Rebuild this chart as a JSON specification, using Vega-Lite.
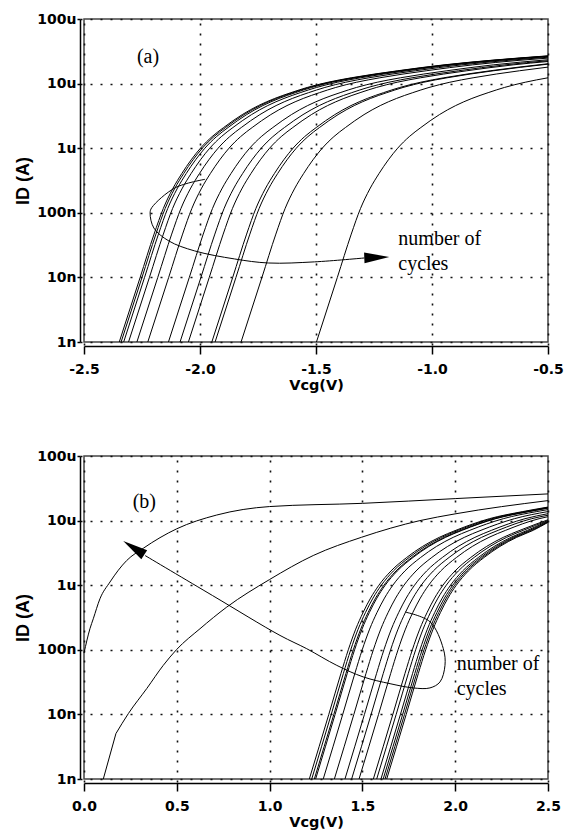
{
  "$schema": "https://vega.github.io/schema/vega-lite/v6.json",
  "padding": {"left": 14, "top": 11, "right": 10, "bottom": 5},
  "spacing": 55,
  "config": {
    "view": {"stroke": "#444", "strokeWidth": 1.5},
    "axis": {
      "labelFont": "DejaVu Sans", "labelFontWeight": "bold", "labelFontSize": 14, "labelColor": "black", "labelFlush": false,
      "titleFont": "DejaVu Sans", "titleFontWeight": "bold", "titleFontSize": 14.5, "titleColor": "black",
      "domainColor": "black", "domainWidth": 1.5, "tickColor": "black", "tickWidth": 1.5,
      "gridColor": "#111", "gridDash": [2, 8], "gridWidth": 1.6, "gridOpacity": 1,
      "offset": 4
    },
    "axisX": {"tickSize": 8, "labelPadding": 8, "titlePadding": 2, "labelAngle": 0},
    "axisY": {"tickSize": 3, "labelPadding": 1, "titlePadding": 4, "titleFont": "Liberation Sans", "titleFontSize": 18}
  },
  "datasets": {
    "topCurves": [
      {"c":"t1","v":-2.348,"id":1e-9},{"c":"t1","v":-2.258,"id":1e-8},{"c":"t1","v":-2.198,"id":4.68e-8},{"c":"t1","v":-2.158,"id":1.17e-7},{"c":"t1","v":-2.118,"id":2.34e-7},{"c":"t1","v":-2.078,"id":4.07e-7},{"c":"t1","v":-2.038,"id":6.61e-7},{"c":"t1","v":-1.998,"id":1e-6},{"c":"t1","v":-1.948,"id":1.51e-6},{"c":"t1","v":-1.898,"id":2.09e-6},{"c":"t1","v":-1.818,"id":3.31e-6},{"c":"t1","v":-1.748,"id":4.57e-6},{"c":"t1","v":-1.678,"id":5.89e-6},{"c":"t1","v":-1.608,"id":7.24e-6},{"c":"t1","v":-1.538,"id":8.71e-6},{"c":"t1","v":-1.448,"id":1.05e-5},{"c":"t1","v":-1.348,"id":1.23e-5},{"c":"t1","v":-1.148,"id":1.58e-5},{"c":"t1","v":-0.948,"id":1.95e-5},{"c":"t1","v":-0.748,"id":2.29e-5},{"c":"t1","v":-0.5,"id":2.69e-5},
      {"c":"t2","v":-2.340,"id":1e-9},{"c":"t2","v":-2.250,"id":1e-8},{"c":"t2","v":-2.190,"id":4.68e-8},{"c":"t2","v":-2.150,"id":1.17e-7},{"c":"t2","v":-2.110,"id":2.34e-7},{"c":"t2","v":-2.070,"id":4.07e-7},{"c":"t2","v":-2.030,"id":6.61e-7},{"c":"t2","v":-1.990,"id":1e-6},{"c":"t2","v":-1.940,"id":1.51e-6},{"c":"t2","v":-1.890,"id":2.09e-6},{"c":"t2","v":-1.810,"id":3.31e-6},{"c":"t2","v":-1.740,"id":4.57e-6},{"c":"t2","v":-1.670,"id":5.89e-6},{"c":"t2","v":-1.600,"id":7.24e-6},{"c":"t2","v":-1.530,"id":8.71e-6},{"c":"t2","v":-1.440,"id":1.05e-5},{"c":"t2","v":-1.340,"id":1.23e-5},{"c":"t2","v":-1.140,"id":1.58e-5},{"c":"t2","v":-0.940,"id":1.95e-5},{"c":"t2","v":-0.740,"id":2.29e-5},{"c":"t2","v":-0.5,"id":2.67e-5},
      {"c":"t3","v":-2.329,"id":1e-9},{"c":"t3","v":-2.239,"id":1e-8},{"c":"t3","v":-2.179,"id":4.68e-8},{"c":"t3","v":-2.139,"id":1.17e-7},{"c":"t3","v":-2.099,"id":2.34e-7},{"c":"t3","v":-2.059,"id":4.07e-7},{"c":"t3","v":-2.019,"id":6.61e-7},{"c":"t3","v":-1.979,"id":1e-6},{"c":"t3","v":-1.929,"id":1.51e-6},{"c":"t3","v":-1.879,"id":2.09e-6},{"c":"t3","v":-1.799,"id":3.31e-6},{"c":"t3","v":-1.729,"id":4.57e-6},{"c":"t3","v":-1.659,"id":5.89e-6},{"c":"t3","v":-1.589,"id":7.24e-6},{"c":"t3","v":-1.519,"id":8.71e-6},{"c":"t3","v":-1.429,"id":1.05e-5},{"c":"t3","v":-1.329,"id":1.23e-5},{"c":"t3","v":-1.129,"id":1.58e-5},{"c":"t3","v":-0.929,"id":1.95e-5},{"c":"t3","v":-0.729,"id":2.29e-5},{"c":"t3","v":-0.5,"id":2.65e-5},
      {"c":"t4","v":-2.308,"id":1e-9},{"c":"t4","v":-2.218,"id":1e-8},{"c":"t4","v":-2.158,"id":4.68e-8},{"c":"t4","v":-2.118,"id":1.17e-7},{"c":"t4","v":-2.078,"id":2.34e-7},{"c":"t4","v":-2.038,"id":4.07e-7},{"c":"t4","v":-1.998,"id":6.61e-7},{"c":"t4","v":-1.958,"id":1e-6},{"c":"t4","v":-1.908,"id":1.51e-6},{"c":"t4","v":-1.858,"id":2.09e-6},{"c":"t4","v":-1.778,"id":3.31e-6},{"c":"t4","v":-1.708,"id":4.57e-6},{"c":"t4","v":-1.638,"id":5.89e-6},{"c":"t4","v":-1.568,"id":7.24e-6},{"c":"t4","v":-1.498,"id":8.71e-6},{"c":"t4","v":-1.408,"id":1.05e-5},{"c":"t4","v":-1.308,"id":1.23e-5},{"c":"t4","v":-1.108,"id":1.58e-5},{"c":"t4","v":-0.908,"id":1.95e-5},{"c":"t4","v":-0.708,"id":2.29e-5},{"c":"t4","v":-0.5,"id":2.62e-5},
      {"c":"t5","v":-2.272,"id":1e-9},{"c":"t5","v":-2.182,"id":1e-8},{"c":"t5","v":-2.122,"id":4.68e-8},{"c":"t5","v":-2.082,"id":1.17e-7},{"c":"t5","v":-2.042,"id":2.34e-7},{"c":"t5","v":-2.002,"id":4.07e-7},{"c":"t5","v":-1.962,"id":6.61e-7},{"c":"t5","v":-1.922,"id":1e-6},{"c":"t5","v":-1.872,"id":1.51e-6},{"c":"t5","v":-1.822,"id":2.09e-6},{"c":"t5","v":-1.742,"id":3.31e-6},{"c":"t5","v":-1.672,"id":4.57e-6},{"c":"t5","v":-1.602,"id":5.89e-6},{"c":"t5","v":-1.532,"id":7.24e-6},{"c":"t5","v":-1.462,"id":8.71e-6},{"c":"t5","v":-1.372,"id":1.05e-5},{"c":"t5","v":-1.272,"id":1.23e-5},{"c":"t5","v":-1.072,"id":1.58e-5},{"c":"t5","v":-0.872,"id":1.95e-5},{"c":"t5","v":-0.672,"id":2.29e-5},{"c":"t5","v":-0.5,"id":2.56e-5},
      {"c":"t6","v":-2.225,"id":1e-9},{"c":"t6","v":-2.135,"id":1e-8},{"c":"t6","v":-2.075,"id":4.68e-8},{"c":"t6","v":-2.035,"id":1.17e-7},{"c":"t6","v":-1.995,"id":2.34e-7},{"c":"t6","v":-1.955,"id":4.07e-7},{"c":"t6","v":-1.915,"id":6.61e-7},{"c":"t6","v":-1.875,"id":1e-6},{"c":"t6","v":-1.825,"id":1.51e-6},{"c":"t6","v":-1.775,"id":2.09e-6},{"c":"t6","v":-1.695,"id":3.31e-6},{"c":"t6","v":-1.625,"id":4.57e-6},{"c":"t6","v":-1.555,"id":5.89e-6},{"c":"t6","v":-1.485,"id":7.24e-6},{"c":"t6","v":-1.415,"id":8.71e-6},{"c":"t6","v":-1.325,"id":1.05e-5},{"c":"t6","v":-1.225,"id":1.23e-5},{"c":"t6","v":-1.025,"id":1.58e-5},{"c":"t6","v":-0.825,"id":1.95e-5},{"c":"t6","v":-0.625,"id":2.29e-5},{"c":"t6","v":-0.5,"id":2.48e-5},
      {"c":"t7","v":-2.136,"id":1e-9},{"c":"t7","v":-2.046,"id":1e-8},{"c":"t7","v":-1.986,"id":4.68e-8},{"c":"t7","v":-1.946,"id":1.17e-7},{"c":"t7","v":-1.906,"id":2.34e-7},{"c":"t7","v":-1.866,"id":4.07e-7},{"c":"t7","v":-1.826,"id":6.61e-7},{"c":"t7","v":-1.786,"id":1e-6},{"c":"t7","v":-1.736,"id":1.51e-6},{"c":"t7","v":-1.686,"id":2.09e-6},{"c":"t7","v":-1.606,"id":3.31e-6},{"c":"t7","v":-1.536,"id":4.57e-6},{"c":"t7","v":-1.466,"id":5.89e-6},{"c":"t7","v":-1.396,"id":7.24e-6},{"c":"t7","v":-1.326,"id":8.71e-6},{"c":"t7","v":-1.236,"id":1.05e-5},{"c":"t7","v":-1.136,"id":1.23e-5},{"c":"t7","v":-0.936,"id":1.58e-5},{"c":"t7","v":-0.736,"id":1.95e-5},{"c":"t7","v":-0.5,"id":2.34e-5},
      {"c":"t8","v":-2.086,"id":1e-9},{"c":"t8","v":-1.996,"id":1e-8},{"c":"t8","v":-1.936,"id":4.68e-8},{"c":"t8","v":-1.896,"id":1.17e-7},{"c":"t8","v":-1.856,"id":2.34e-7},{"c":"t8","v":-1.816,"id":4.07e-7},{"c":"t8","v":-1.776,"id":6.61e-7},{"c":"t8","v":-1.736,"id":1e-6},{"c":"t8","v":-1.686,"id":1.51e-6},{"c":"t8","v":-1.636,"id":2.09e-6},{"c":"t8","v":-1.556,"id":3.31e-6},{"c":"t8","v":-1.486,"id":4.57e-6},{"c":"t8","v":-1.416,"id":5.89e-6},{"c":"t8","v":-1.346,"id":7.24e-6},{"c":"t8","v":-1.276,"id":8.71e-6},{"c":"t8","v":-1.186,"id":1.05e-5},{"c":"t8","v":-1.086,"id":1.23e-5},{"c":"t8","v":-0.886,"id":1.58e-5},{"c":"t8","v":-0.686,"id":1.95e-5},{"c":"t8","v":-0.5,"id":2.26e-5},
      {"c":"t9","v":-2.050,"id":1e-9},{"c":"t9","v":-1.960,"id":1e-8},{"c":"t9","v":-1.900,"id":4.68e-8},{"c":"t9","v":-1.860,"id":1.17e-7},{"c":"t9","v":-1.820,"id":2.34e-7},{"c":"t9","v":-1.780,"id":4.07e-7},{"c":"t9","v":-1.740,"id":6.61e-7},{"c":"t9","v":-1.700,"id":1e-6},{"c":"t9","v":-1.650,"id":1.51e-6},{"c":"t9","v":-1.600,"id":2.09e-6},{"c":"t9","v":-1.520,"id":3.31e-6},{"c":"t9","v":-1.450,"id":4.57e-6},{"c":"t9","v":-1.380,"id":5.89e-6},{"c":"t9","v":-1.310,"id":7.24e-6},{"c":"t9","v":-1.240,"id":8.71e-6},{"c":"t9","v":-1.150,"id":1.05e-5},{"c":"t9","v":-1.050,"id":1.23e-5},{"c":"t9","v":-0.850,"id":1.58e-5},{"c":"t9","v":-0.650,"id":1.95e-5},{"c":"t9","v":-0.5,"id":2.20e-5},
      {"c":"t10","v":-1.949,"id":1e-9},{"c":"t10","v":-1.859,"id":1e-8},{"c":"t10","v":-1.799,"id":4.68e-8},{"c":"t10","v":-1.759,"id":1.17e-7},{"c":"t10","v":-1.719,"id":2.34e-7},{"c":"t10","v":-1.679,"id":4.07e-7},{"c":"t10","v":-1.639,"id":6.61e-7},{"c":"t10","v":-1.599,"id":1e-6},{"c":"t10","v":-1.549,"id":1.51e-6},{"c":"t10","v":-1.499,"id":2.09e-6},{"c":"t10","v":-1.419,"id":3.31e-6},{"c":"t10","v":-1.349,"id":4.57e-6},{"c":"t10","v":-1.279,"id":5.89e-6},{"c":"t10","v":-1.209,"id":7.24e-6},{"c":"t10","v":-1.139,"id":8.71e-6},{"c":"t10","v":-1.049,"id":1.05e-5},{"c":"t10","v":-0.949,"id":1.23e-5},{"c":"t10","v":-0.749,"id":1.58e-5},{"c":"t10","v":-0.5,"id":2.03e-5},
      {"c":"t11","v":-1.935,"id":1e-9},{"c":"t11","v":-1.845,"id":1e-8},{"c":"t11","v":-1.785,"id":4.68e-8},{"c":"t11","v":-1.745,"id":1.17e-7},{"c":"t11","v":-1.705,"id":2.34e-7},{"c":"t11","v":-1.665,"id":4.07e-7},{"c":"t11","v":-1.625,"id":6.61e-7},{"c":"t11","v":-1.585,"id":1e-6},{"c":"t11","v":-1.535,"id":1.51e-6},{"c":"t11","v":-1.485,"id":2.09e-6},{"c":"t11","v":-1.405,"id":3.31e-6},{"c":"t11","v":-1.335,"id":4.57e-6},{"c":"t11","v":-1.265,"id":5.89e-6},{"c":"t11","v":-1.195,"id":7.24e-6},{"c":"t11","v":-1.125,"id":8.71e-6},{"c":"t11","v":-1.035,"id":1.05e-5},{"c":"t11","v":-0.935,"id":1.23e-5},{"c":"t11","v":-0.735,"id":1.58e-5},{"c":"t11","v":-0.5,"id":2.0e-5},
      {"c":"t12","v":-1.823,"id":1e-9},{"c":"t12","v":-1.733,"id":1e-8},{"c":"t12","v":-1.673,"id":4.68e-8},{"c":"t12","v":-1.633,"id":1.17e-7},{"c":"t12","v":-1.593,"id":2.34e-7},{"c":"t12","v":-1.553,"id":4.07e-7},{"c":"t12","v":-1.513,"id":6.61e-7},{"c":"t12","v":-1.473,"id":1e-6},{"c":"t12","v":-1.423,"id":1.51e-6},{"c":"t12","v":-1.373,"id":2.09e-6},{"c":"t12","v":-1.293,"id":3.31e-6},{"c":"t12","v":-1.223,"id":4.57e-6},{"c":"t12","v":-1.153,"id":5.89e-6},{"c":"t12","v":-1.083,"id":7.24e-6},{"c":"t12","v":-1.013,"id":8.71e-6},{"c":"t12","v":-0.923,"id":1.05e-5},{"c":"t12","v":-0.823,"id":1.23e-5},{"c":"t12","v":-0.623,"id":1.58e-5},{"c":"t12","v":-0.5,"id":1.80e-5},
      {"c":"t13","v":-1.498,"id":1e-9},{"c":"t13","v":-1.408,"id":1e-8},{"c":"t13","v":-1.348,"id":4.68e-8},{"c":"t13","v":-1.308,"id":1.17e-7},{"c":"t13","v":-1.268,"id":2.34e-7},{"c":"t13","v":-1.228,"id":4.07e-7},{"c":"t13","v":-1.188,"id":6.61e-7},{"c":"t13","v":-1.148,"id":1e-6},{"c":"t13","v":-1.098,"id":1.51e-6},{"c":"t13","v":-1.048,"id":2.09e-6},{"c":"t13","v":-0.968,"id":3.31e-6},{"c":"t13","v":-0.898,"id":4.57e-6},{"c":"t13","v":-0.828,"id":5.89e-6},{"c":"t13","v":-0.758,"id":7.24e-6},{"c":"t13","v":-0.688,"id":8.71e-6},{"c":"t13","v":-0.598,"id":1.05e-5},{"c":"t13","v":-0.5,"id":1.23e-5}
    ],
    "topArrow": [
      {"i":1,"v":-1.978,"id":3.30e-7},{"i":2,"v":-2.107,"id":2.44e-7},{"i":3,"v":-2.208,"id":1.20e-7},{"i":4,"v":-2.215,"id":9.93e-8},{"i":5,"v":-2.199,"id":5.82e-8},{"i":6,"v":-2.134,"id":3.66e-8},{"i":7,"v":-2.023,"id":2.57e-8},{"i":8,"v":-1.851,"id":1.93e-8},{"i":9,"v":-1.704,"id":1.67e-8},{"i":10,"v":-1.506,"id":1.74e-8},{"i":11,"v":-1.291,"id":2.0e-8}
    ],
    "topHead": [{"v":-1.238,"id":2.04e-8}],
    "topText": [
      {"t":"(a)","v":-2.272,"id":2.56e-5},
      {"t":"number of","v":-1.145,"id":3.94e-8},
      {"t":"cycles","v":-1.145,"id":1.62e-8}
    ],
    "botCurves": [
      {"c":"b1","v":1.214,"id":1e-9},{"c":"b1","v":1.319,"id":1e-8},{"c":"b1","v":1.384,"id":4.27e-8},{"c":"b1","v":1.424,"id":1e-7},{"c":"b1","v":1.464,"id":2.09e-7},{"c":"b1","v":1.504,"id":3.80e-7},{"c":"b1","v":1.544,"id":6.31e-7},{"c":"b1","v":1.589,"id":1e-6},{"c":"b1","v":1.654,"id":1.66e-6},{"c":"b1","v":1.739,"id":2.69e-6},{"c":"b1","v":1.824,"id":3.98e-6},{"c":"b1","v":1.914,"id":5.50e-6},{"c":"b1","v":2.004,"id":7.08e-6},{"c":"b1","v":2.184,"id":1.07e-5},{"c":"b1","v":2.364,"id":1.38e-5},{"c":"b1","v":2.5,"id":1.62e-5},
      {"c":"b2","v":1.227,"id":1e-9},{"c":"b2","v":1.332,"id":1e-8},{"c":"b2","v":1.397,"id":4.27e-8},{"c":"b2","v":1.437,"id":1e-7},{"c":"b2","v":1.477,"id":2.09e-7},{"c":"b2","v":1.517,"id":3.80e-7},{"c":"b2","v":1.557,"id":6.31e-7},{"c":"b2","v":1.602,"id":1e-6},{"c":"b2","v":1.667,"id":1.66e-6},{"c":"b2","v":1.752,"id":2.69e-6},{"c":"b2","v":1.837,"id":3.98e-6},{"c":"b2","v":1.927,"id":5.50e-6},{"c":"b2","v":2.017,"id":7.08e-6},{"c":"b2","v":2.197,"id":1.07e-5},{"c":"b2","v":2.377,"id":1.38e-5},{"c":"b2","v":2.5,"id":1.60e-5},
      {"c":"b3","v":1.241,"id":1e-9},{"c":"b3","v":1.346,"id":1e-8},{"c":"b3","v":1.411,"id":4.27e-8},{"c":"b3","v":1.451,"id":1e-7},{"c":"b3","v":1.491,"id":2.09e-7},{"c":"b3","v":1.531,"id":3.80e-7},{"c":"b3","v":1.571,"id":6.31e-7},{"c":"b3","v":1.616,"id":1e-6},{"c":"b3","v":1.681,"id":1.66e-6},{"c":"b3","v":1.766,"id":2.69e-6},{"c":"b3","v":1.851,"id":3.98e-6},{"c":"b3","v":1.941,"id":5.50e-6},{"c":"b3","v":2.031,"id":7.08e-6},{"c":"b3","v":2.211,"id":1.07e-5},{"c":"b3","v":2.391,"id":1.38e-5},{"c":"b3","v":2.5,"id":1.57e-5},
      {"c":"b4","v":1.248,"id":1e-9},{"c":"b4","v":1.353,"id":1e-8},{"c":"b4","v":1.418,"id":4.27e-8},{"c":"b4","v":1.458,"id":1e-7},{"c":"b4","v":1.498,"id":2.09e-7},{"c":"b4","v":1.538,"id":3.80e-7},{"c":"b4","v":1.578,"id":6.31e-7},{"c":"b4","v":1.623,"id":1e-6},{"c":"b4","v":1.688,"id":1.66e-6},{"c":"b4","v":1.773,"id":2.69e-6},{"c":"b4","v":1.858,"id":3.98e-6},{"c":"b4","v":1.948,"id":5.50e-6},{"c":"b4","v":2.038,"id":7.08e-6},{"c":"b4","v":2.218,"id":1.07e-5},{"c":"b4","v":2.398,"id":1.38e-5},{"c":"b4","v":2.5,"id":1.56e-5},
      {"c":"b5","v":1.289,"id":1e-9},{"c":"b5","v":1.394,"id":1e-8},{"c":"b5","v":1.459,"id":4.27e-8},{"c":"b5","v":1.499,"id":1e-7},{"c":"b5","v":1.539,"id":2.09e-7},{"c":"b5","v":1.579,"id":3.80e-7},{"c":"b5","v":1.619,"id":6.31e-7},{"c":"b5","v":1.664,"id":1e-6},{"c":"b5","v":1.729,"id":1.66e-6},{"c":"b5","v":1.814,"id":2.69e-6},{"c":"b5","v":1.899,"id":3.98e-6},{"c":"b5","v":1.989,"id":5.50e-6},{"c":"b5","v":2.079,"id":7.08e-6},{"c":"b5","v":2.259,"id":1.07e-5},{"c":"b5","v":2.439,"id":1.38e-5},{"c":"b5","v":2.5,"id":1.48e-5},
      {"c":"b6","v":1.349,"id":1e-9},{"c":"b6","v":1.454,"id":1e-8},{"c":"b6","v":1.519,"id":4.27e-8},{"c":"b6","v":1.559,"id":1e-7},{"c":"b6","v":1.599,"id":2.09e-7},{"c":"b6","v":1.639,"id":3.80e-7},{"c":"b6","v":1.679,"id":6.31e-7},{"c":"b6","v":1.724,"id":1e-6},{"c":"b6","v":1.789,"id":1.66e-6},{"c":"b6","v":1.874,"id":2.69e-6},{"c":"b6","v":1.959,"id":3.98e-6},{"c":"b6","v":2.049,"id":5.50e-6},{"c":"b6","v":2.139,"id":7.08e-6},{"c":"b6","v":2.319,"id":1.07e-5},{"c":"b6","v":2.5,"id":1.38e-5},
      {"c":"b7","v":1.406,"id":1e-9},{"c":"b7","v":1.511,"id":1e-8},{"c":"b7","v":1.576,"id":4.27e-8},{"c":"b7","v":1.616,"id":1e-7},{"c":"b7","v":1.656,"id":2.09e-7},{"c":"b7","v":1.696,"id":3.80e-7},{"c":"b7","v":1.736,"id":6.31e-7},{"c":"b7","v":1.781,"id":1e-6},{"c":"b7","v":1.846,"id":1.66e-6},{"c":"b7","v":1.931,"id":2.69e-6},{"c":"b7","v":2.016,"id":3.98e-6},{"c":"b7","v":2.106,"id":5.50e-6},{"c":"b7","v":2.196,"id":7.08e-6},{"c":"b7","v":2.376,"id":1.07e-5},{"c":"b7","v":2.5,"id":1.28e-5},
      {"c":"b8","v":1.442,"id":1e-9},{"c":"b8","v":1.547,"id":1e-8},{"c":"b8","v":1.612,"id":4.27e-8},{"c":"b8","v":1.652,"id":1e-7},{"c":"b8","v":1.692,"id":2.09e-7},{"c":"b8","v":1.732,"id":3.80e-7},{"c":"b8","v":1.772,"id":6.31e-7},{"c":"b8","v":1.817,"id":1e-6},{"c":"b8","v":1.882,"id":1.66e-6},{"c":"b8","v":1.967,"id":2.69e-6},{"c":"b8","v":2.052,"id":3.98e-6},{"c":"b8","v":2.142,"id":5.50e-6},{"c":"b8","v":2.232,"id":7.08e-6},{"c":"b8","v":2.412,"id":1.07e-5},{"c":"b8","v":2.5,"id":1.21e-5},
      {"c":"b9","v":1.482,"id":1e-9},{"c":"b9","v":1.587,"id":1e-8},{"c":"b9","v":1.652,"id":4.27e-8},{"c":"b9","v":1.692,"id":1e-7},{"c":"b9","v":1.732,"id":2.09e-7},{"c":"b9","v":1.772,"id":3.80e-7},{"c":"b9","v":1.812,"id":6.31e-7},{"c":"b9","v":1.857,"id":1e-6},{"c":"b9","v":1.922,"id":1.66e-6},{"c":"b9","v":2.007,"id":2.69e-6},{"c":"b9","v":2.092,"id":3.98e-6},{"c":"b9","v":2.182,"id":5.50e-6},{"c":"b9","v":2.272,"id":7.08e-6},{"c":"b9","v":2.452,"id":1.07e-5},{"c":"b9","v":2.5,"id":1.15e-5},
      {"c":"b10","v":1.559,"id":1e-9},{"c":"b10","v":1.664,"id":1e-8},{"c":"b10","v":1.729,"id":4.27e-8},{"c":"b10","v":1.769,"id":1e-7},{"c":"b10","v":1.809,"id":2.09e-7},{"c":"b10","v":1.849,"id":3.80e-7},{"c":"b10","v":1.889,"id":6.31e-7},{"c":"b10","v":1.934,"id":1e-6},{"c":"b10","v":1.999,"id":1.66e-6},{"c":"b10","v":2.084,"id":2.69e-6},{"c":"b10","v":2.169,"id":3.98e-6},{"c":"b10","v":2.259,"id":5.50e-6},{"c":"b10","v":2.349,"id":7.08e-6},{"c":"b10","v":2.5,"id":1.03e-5},
      {"c":"b11","v":1.577,"id":1e-9},{"c":"b11","v":1.682,"id":1e-8},{"c":"b11","v":1.747,"id":4.27e-8},{"c":"b11","v":1.787,"id":1e-7},{"c":"b11","v":1.827,"id":2.09e-7},{"c":"b11","v":1.867,"id":3.80e-7},{"c":"b11","v":1.907,"id":6.31e-7},{"c":"b11","v":1.952,"id":1e-6},{"c":"b11","v":2.017,"id":1.66e-6},{"c":"b11","v":2.102,"id":2.69e-6},{"c":"b11","v":2.187,"id":3.98e-6},{"c":"b11","v":2.277,"id":5.50e-6},{"c":"b11","v":2.367,"id":7.08e-6},{"c":"b11","v":2.5,"id":1.0e-5},
      {"c":"b12","v":1.600,"id":1e-9},{"c":"b12","v":1.705,"id":1e-8},{"c":"b12","v":1.770,"id":4.27e-8},{"c":"b12","v":1.810,"id":1e-7},{"c":"b12","v":1.850,"id":2.09e-7},{"c":"b12","v":1.890,"id":3.80e-7},{"c":"b12","v":1.930,"id":6.31e-7},{"c":"b12","v":1.975,"id":1e-6},{"c":"b12","v":2.040,"id":1.66e-6},{"c":"b12","v":2.125,"id":2.69e-6},{"c":"b12","v":2.210,"id":3.98e-6},{"c":"b12","v":2.300,"id":5.50e-6},{"c":"b12","v":2.390,"id":7.08e-6},{"c":"b12","v":2.5,"id":9.8e-6},
      {"c":"b13","v":1.612,"id":1e-9},{"c":"b13","v":1.717,"id":1e-8},{"c":"b13","v":1.782,"id":4.27e-8},{"c":"b13","v":1.822,"id":1e-7},{"c":"b13","v":1.862,"id":2.09e-7},{"c":"b13","v":1.902,"id":3.80e-7},{"c":"b13","v":1.942,"id":6.31e-7},{"c":"b13","v":1.987,"id":1e-6},{"c":"b13","v":2.052,"id":1.66e-6},{"c":"b13","v":2.137,"id":2.69e-6},{"c":"b13","v":2.222,"id":3.98e-6},{"c":"b13","v":2.312,"id":5.50e-6},{"c":"b13","v":2.402,"id":7.08e-6},{"c":"b13","v":2.5,"id":9.6e-6},
      {"c":"b14","v":1.622,"id":1e-9},{"c":"b14","v":1.727,"id":1e-8},{"c":"b14","v":1.792,"id":4.27e-8},{"c":"b14","v":1.832,"id":1e-7},{"c":"b14","v":1.872,"id":2.09e-7},{"c":"b14","v":1.912,"id":3.80e-7},{"c":"b14","v":1.952,"id":6.31e-7},{"c":"b14","v":1.997,"id":1e-6},{"c":"b14","v":2.062,"id":1.66e-6},{"c":"b14","v":2.147,"id":2.69e-6},{"c":"b14","v":2.232,"id":3.98e-6},{"c":"b14","v":2.322,"id":5.50e-6},{"c":"b14","v":2.412,"id":7.08e-6},{"c":"b14","v":2.5,"id":9.5e-6},
      {"c":"b15","v":1.631,"id":1e-9},{"c":"b15","v":1.736,"id":1e-8},{"c":"b15","v":1.801,"id":4.27e-8},{"c":"b15","v":1.841,"id":1e-7},{"c":"b15","v":1.881,"id":2.09e-7},{"c":"b15","v":1.921,"id":3.80e-7},{"c":"b15","v":1.961,"id":6.31e-7},{"c":"b15","v":2.006,"id":1e-6},{"c":"b15","v":2.071,"id":1.66e-6},{"c":"b15","v":2.156,"id":2.69e-6},{"c":"b15","v":2.241,"id":3.98e-6},{"c":"b15","v":2.331,"id":5.50e-6},{"c":"b15","v":2.421,"id":7.08e-6},{"c":"b15","v":2.5,"id":9.4e-6},
      {"c":"A","v":0.0,"id":8.9e-8},{"c":"A","v":0.032,"id":2.12e-7},{"c":"A","v":0.05,"id":3.02e-7},{"c":"A","v":0.086,"id":6.17e-7},{"c":"A","v":0.14,"id":1.12e-6},{"c":"A","v":0.23,"id":2.41e-6},{"c":"A","v":0.32,"id":3.74e-6},{"c":"A","v":0.499,"id":7.45e-6},{"c":"A","v":0.715,"id":1.22e-5},{"c":"A","v":1.0,"id":1.65e-5},{"c":"A","v":1.5,"id":1.85e-5},{"c":"A","v":2.0,"id":2.19e-5},{"c":"A","v":2.5,"id":2.59e-5},
      {"c":"B1","v":0.104,"id":1e-9},{"c":"B1","v":0.172,"id":5.05e-9},
      {"c":"B2","v":0.172,"id":5.05e-9},{"c":"B2","v":0.239,"id":1.03e-8},{"c":"B2","v":0.338,"id":2.51e-8},{"c":"B2","v":0.427,"id":5.74e-8},{"c":"B2","v":0.499,"id":1.01e-7},{"c":"B2","v":0.625,"id":2.12e-7},{"c":"B2","v":0.769,"id":4.58e-7},{"c":"B2","v":0.999,"id":1.22e-6},{"c":"B2","v":1.235,"id":2.88e-6},{"c":"B2","v":1.496,"id":5.53e-6},{"c":"B2","v":1.81,"id":1e-5},{"c":"B2","v":1.999,"id":1.27e-5},{"c":"B2","v":2.5,"id":2.04e-5}
    ],
    "botArrow": [
      {"i":1,"v":1.730,"id":3.84e-7},{"i":2,"v":1.864,"id":2.72e-7},{"i":3,"v":1.936,"id":1.04e-7},{"i":4,"v":1.945,"id":5.74e-8},{"i":5,"v":1.918,"id":3.18e-8},{"i":6,"v":1.864,"id":2.57e-8},{"i":7,"v":1.774,"id":2.57e-8},{"i":8,"v":1.649,"id":2.99e-8},{"i":9,"v":1.505,"id":3.80e-8},{"i":10,"v":1.362,"id":5.74e-8},{"i":11,"v":1.200,"id":1.04e-7},{"i":12,"v":1.056,"id":1.67e-7},{"i":13,"v":0.692,"id":6.93e-7},{"i":14,"v":0.329,"id":2.88e-6}
    ],
    "botHead": [{"v":0.268,"id":3.78e-6}],
    "botText": [
      {"t":"(b)","v":0.262,"id":1.97e-5},
      {"t":"number of","v":2.008,"id":5.94e-8},
      {"t":"cycles","v":2.008,"id":2.51e-8}
    ]
  },
  "vconcat": [
    {
      "width": 464, "height": 323,
      "encoding": {
        "x": {"field": "v", "type": "quantitative", "scale": {"domain": [-2.5, -0.5], "nice": false, "zero": false},
              "axis": {"title": "Vcg(V)", "values": [-2.5, -2, -1.5, -1, -0.5], "labelExpr": "(datum.value < 0 ? '-' : '') + format(abs(datum.value), '.1f')"}},
        "y": {"field": "id", "type": "quantitative", "scale": {"type": "log", "domain": [1e-9, 1e-4], "nice": false},
              "axis": {"title": "ID (A)", "values": [1e-9, 1e-8, 1e-7, 1e-6, 1e-5, 1e-4], "labelExpr": "datum.value < 3e-9 ? '1n' : datum.value < 3e-8 ? '10n' : datum.value < 3e-7 ? '100n' : datum.value < 3e-6 ? '1u' : datum.value < 3e-5 ? '10u' : '100u'"}}
      },
      "layer": [
        {"data": {"name": "topCurves"}, "mark": {"type": "line", "interpolate": "monotone", "color": "black", "strokeWidth": 1}, "encoding": {"detail": {"field": "c"}}},
        {"data": {"name": "topArrow"}, "mark": {"type": "line", "interpolate": "catmull-rom", "color": "black", "strokeWidth": 1}, "encoding": {"order": {"field": "i", "type": "quantitative"}}},
        {"data": {"name": "topHead"}, "mark": {"type": "point", "shape": "M 1 0 L -1 -0.43 L -1 0.43 Z", "size": 625, "angle": -2.3, "filled": true, "color": "black", "opacity": 1}},
        {"data": {"name": "topText"}, "mark": {"type": "text", "font": "Liberation Serif", "fontSize": 20, "align": "left", "baseline": "middle", "color": "black"}, "encoding": {"text": {"field": "t"}}}
      ]
    },
    {
      "width": 464, "height": 323,
      "encoding": {
        "x": {"field": "v", "type": "quantitative", "scale": {"domain": [0, 2.5], "nice": false, "zero": false},
              "axis": {"title": "Vcg(V)", "values": [0, 0.5, 1, 1.5, 2, 2.5], "labelExpr": "(datum.value < 0 ? '-' : '') + format(abs(datum.value), '.1f')"}},
        "y": {"field": "id", "type": "quantitative", "scale": {"type": "log", "domain": [1e-9, 1e-4], "nice": false},
              "axis": {"title": "ID (A)", "values": [1e-9, 1e-8, 1e-7, 1e-6, 1e-5, 1e-4], "labelExpr": "datum.value < 3e-9 ? '1n' : datum.value < 3e-8 ? '10n' : datum.value < 3e-7 ? '100n' : datum.value < 3e-6 ? '1u' : datum.value < 3e-5 ? '10u' : '100u'"}}
      },
      "layer": [
        {"data": {"name": "botCurves"}, "mark": {"type": "line", "interpolate": "monotone", "color": "black", "strokeWidth": 1}, "encoding": {"detail": {"field": "c"}}},
        {"data": {"name": "botArrow"}, "mark": {"type": "line", "interpolate": "catmull-rom", "color": "black", "strokeWidth": 1}, "encoding": {"order": {"field": "i", "type": "quantitative"}}},
        {"data": {"name": "botHead"}, "mark": {"type": "point", "shape": "M 1 0 L -1 -0.43 L -1 0.43 Z", "size": 625, "angle": 212.9, "filled": true, "color": "black", "opacity": 1}},
        {"data": {"name": "botText"}, "mark": {"type": "text", "font": "Liberation Serif", "fontSize": 20, "align": "left", "baseline": "middle", "color": "black"}, "encoding": {"text": {"field": "t"}}}
      ]
    }
  ]
}
